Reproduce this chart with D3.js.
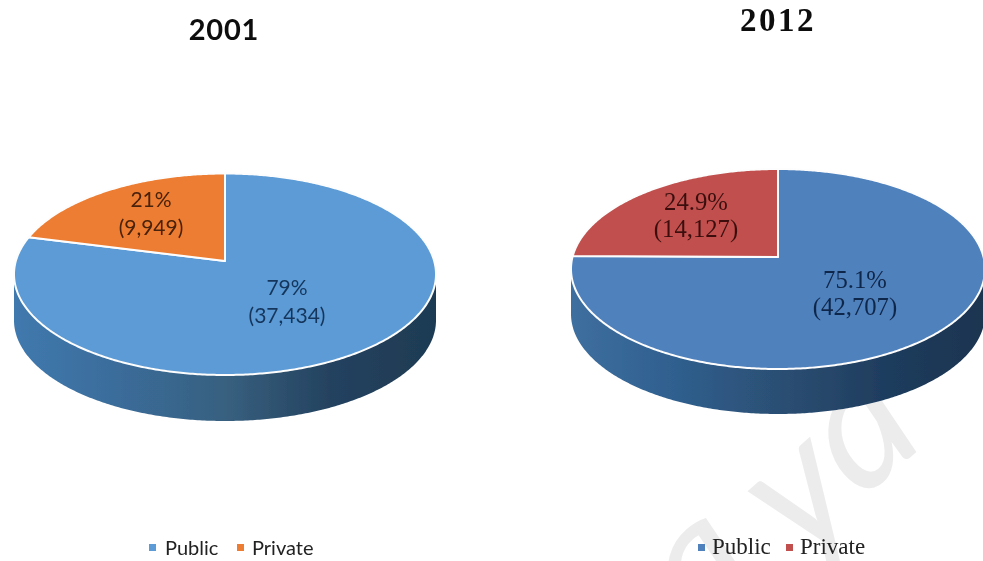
<!DOCTYPE html>
<html><head><meta charset="utf-8">
<script src="https://cdnjs.cloudflare.com/ajax/libs/d3/7.8.5/d3.min.js"></script>
<style>html,body{margin:0;padding:0;background:#fff}svg{display:block}</style></head>
<body><svg id="c" width="983" height="561"></svg>
<script>
const categories = ["Public", "Private"];
const years = ["2001", "2012"];
const values2001 = [37434, 9949];
const values2012 = [42707, 14127];
const shares2001 = ["79%", "21%"];
const shares2012 = ["75.1%", "24.9%"];
const counts2001 = ["(37,434)", "(9,949)"];
const counts2012 = ["(42,707)", "(14,127)"];

const panels = [
 {year:years[0],values:values2001,shares:shares2001,counts:counts2001,
  colors:["#5b9bd5","#ed7d31"],labelColors:["#16365c","#4a2208"],
  cx:225,apexY:261,top:173.5,bottom:375,halfW:211,depth:46,
  side:["#4079ae","#3a6c9a","#38607f","#24425f","#1e3a53"],
  font:"Lato, 'Open Sans', sans-serif",tWeight:700,
  title:{x:224,y:40,size:29,ls:0.8},
  label:[{x:287,y:295},{x:151,y:207}],lineH:28,labelSize:21,
  legend:{box:[149,237],text:[165,252],boxY:544,y:555,size:20,stretch:1,font:"Lato, 'Open Sans', sans-serif"}},
 {year:years[1],values:values2012,shares:shares2012,counts:counts2012,
  colors:["#4f81bd","#c0504d"],labelColors:["#10274a","#3d1010"],
  cx:778,apexY:257,top:169,bottom:369,halfW:207,depth:45,
  side:["#3e6f9f","#2f5f8e","#2c4f74","#1f3d5e","#1a3450"],
  font:"'Liberation Serif', serif",tWeight:700,
  title:{x:778,y:31,size:33,ls:2.5},
  label:[{x:855,y:288},{x:696,y:210}],lineH:27,labelSize:24.7,
  legend:{box:[698,786],text:[712,800],boxY:544,y:554,size:23,stretch:1,font:"'Liberation Serif', serif"}}
];

const svg = d3.select("#c");
const defs = svg.append("defs");
const blur = defs.append("filter").attr("id","soft").attr("x","-5%").attr("y","-5%").attr("width","110%").attr("height","110%");
blur.append("feGaussianBlur").attr("stdDeviation",0.55);

// watermark
svg.append("text").attr("transform","translate(700,640) rotate(-41)")
  .attr("font-family","Lato, sans-serif").attr("font-style","italic").attr("font-size",180)
  .attr("fill","#ececec").attr("dx","0 35 3").attr("dy","0 10 -10").text("aya");

const root = svg.append("g").attr("filter","url(#soft)");

panels.forEach((p,pi)=>{
  // Perspective projection of a flat disc, angle 0 at far side, clockwise
  const k = (2*p.apexY - p.top - p.bottom)/(p.bottom - p.top);
  const A = p.bottom*(1+k) - p.apexY;
  const C = p.halfW*Math.sqrt(1-k*k);
  const project = (a,r=1)=>{
    const u = r*Math.sin(a), v = -r*Math.cos(a), w = 1+k*v;
    return [p.cx + C*u/w, (A*v + p.apexY)/w];
  };
  const pieGen = d3.pie().sort(null).value(d=>d);
  const arcs = pieGen(p.values);
  const line = d3.line();
  const sweep = (a0,a1)=>{
    const n = Math.max(2,Math.ceil(Math.abs(a1-a0)/0.01));
    return d3.range(n+1).map(i=>a0+(a1-a0)*i/n);
  };
  // side wall
  const gid = "side"+pi;
  const g = defs.append("linearGradient").attr("id",gid).attr("gradientUnits","userSpaceOnUse")
     .attr("x1",p.cx-p.halfW).attr("x2",p.cx+p.halfW).attr("y1",0).attr("y2",0);
  const stops = d3.scaleLinear().domain([0,p.side.length-1]).range([0,1]);
  p.side.forEach((c,i)=>g.append("stop").attr("offset",stops(i)).attr("stop-color",c));
  const all = sweep(0,2*Math.PI).map(a=>project(a));
  const iR = d3.maxIndex(all,d=>d[0]), iL = d3.minIndex(all,d=>d[0]);
  const lower = all.slice(iR,iL+1);
  const wall = lower.concat(lower.slice().reverse().map(d=>[d[0],d[1]+p.depth]));
  root.append("path").attr("d",line(wall)+"Z").attr("fill",`url(#${gid})`);
  // top
  arcs.forEach((d,i)=>{
    const pts = sweep(d.startAngle,d.endAngle).map(a=>project(a));
    pts.push(project(0,0));
    root.append("path").attr("d",line(pts)+"Z").attr("fill",p.colors[i])
      .attr("stroke","#fdfdfd").attr("stroke-width",2).attr("stroke-linejoin","round");
  });
  // labels
  p.label.forEach((l,i)=>{
    const t = root.append("text").attr("text-anchor","middle").attr("font-family",p.font)
      .attr("font-size",p.labelSize).attr("fill",p.labelColors[i]);
    t.append("tspan").attr("x",l.x).attr("y",l.y).text(p.shares[i]);
    t.append("tspan").attr("x",l.x).attr("y",l.y+p.lineH).text(p.counts[i]);
  });
  // title
  root.append("text").attr("x",p.title.x).attr("y",p.title.y).attr("text-anchor","middle")
    .attr("font-family",p.font).attr("font-weight",p.tWeight).attr("font-size",p.title.size)
    .attr("letter-spacing",p.title.ls).attr("fill","#111").text(p.year);
  // legend
  categories.forEach((c,i)=>{
    root.append("rect").attr("x",p.legend.box[i]).attr("y",p.legend.boxY).attr("width",7).attr("height",7).attr("fill",p.colors[i]);
    root.append("text").attr("transform",`translate(${p.legend.text[i]},${p.legend.y}) scale(${p.legend.stretch},1)`)
      .attr("font-family",p.legend.font).attr("font-size",p.legend.size).attr("fill","#222").text(c);
  });
});
</script></body></html>
